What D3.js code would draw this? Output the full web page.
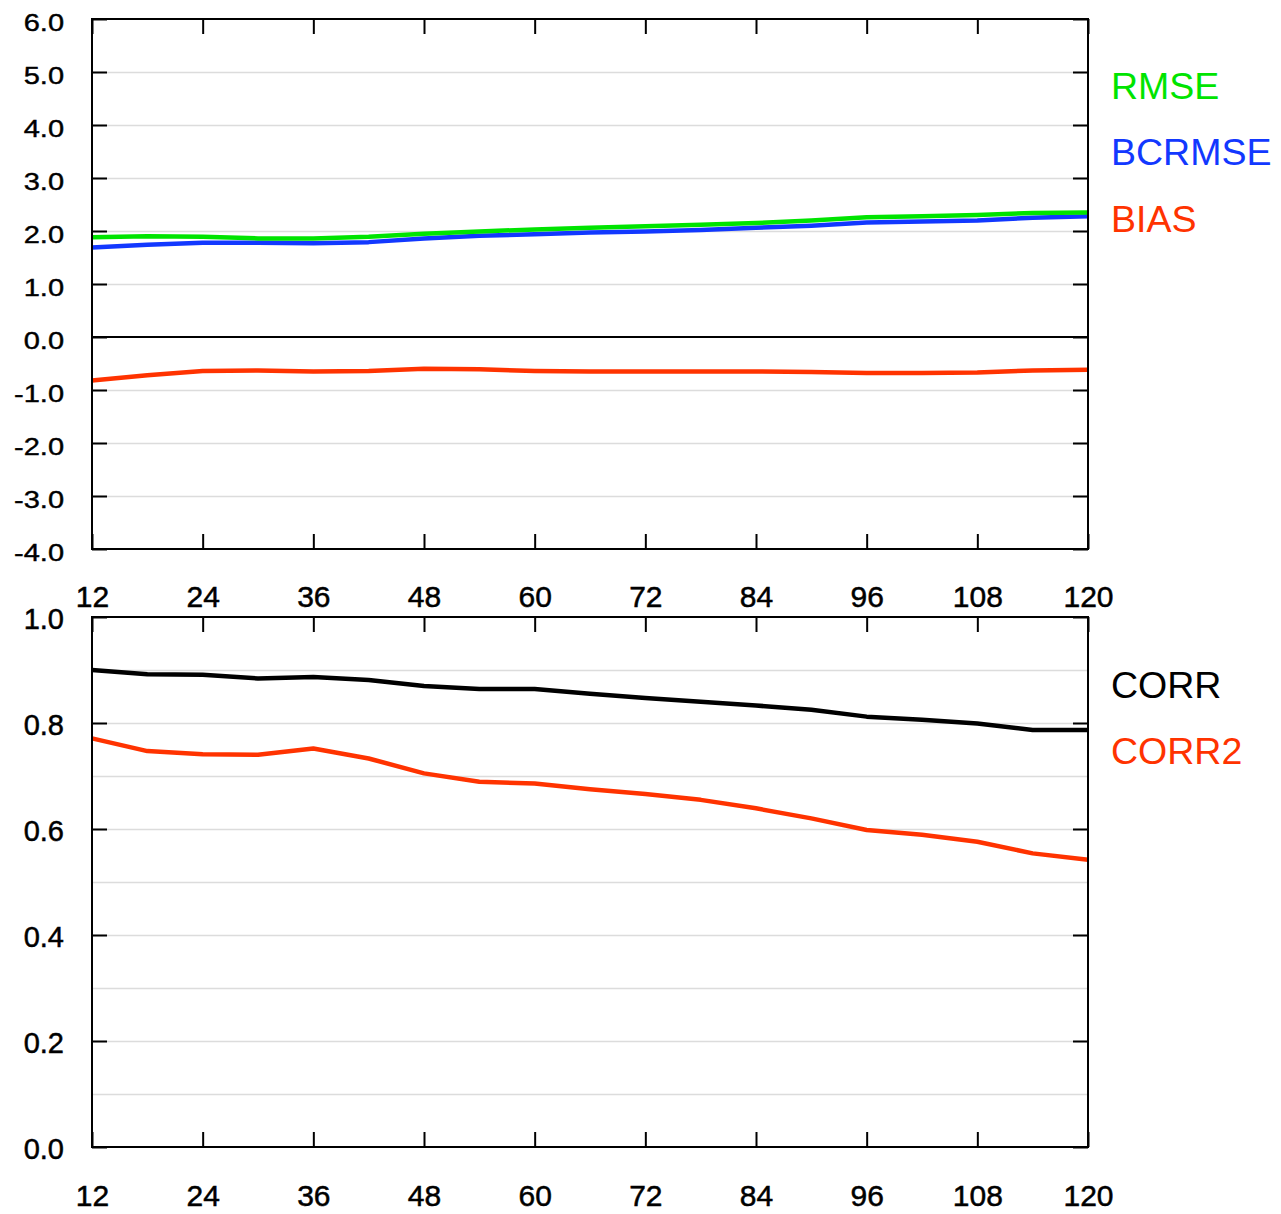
<!DOCTYPE html>
<html>
<head>
<meta charset="utf-8">
<script src="https://cdn.jsdelivr.net/npm/d3@7"></script>
<style>
  body { margin: 0; background: #fff; }
  text { font-family: "Liberation Sans", Arial, sans-serif; fill: #000; }
</style>
</head>
<body>
<div class="canvas"></div>
<script>

// forecast hours (6-hourly)
const hours = [12, 18, 24, 30, 36, 42, 48, 54, 60, 66, 72, 78, 84, 90, 96, 102, 108, 114, 120];
const hourTicks = [12, 24, 36, 48, 60, 72, 84, 96, 108, 120];

// top panel series
const rmse   = [1.88, 1.90, 1.89, 1.86, 1.86, 1.89, 1.95, 1.99, 2.03, 2.06, 2.09, 2.12, 2.15, 2.20, 2.26, 2.28, 2.30, 2.34, 2.35];
const bcrmse = [1.69, 1.74, 1.78, 1.78, 1.77, 1.79, 1.86, 1.91, 1.94, 1.97, 1.99, 2.02, 2.06, 2.10, 2.16, 2.18, 2.20, 2.25, 2.28];
const bias   = [-0.82, -0.72, -0.64, -0.63, -0.65, -0.64, -0.60, -0.61, -0.64, -0.65, -0.65, -0.65, -0.65, -0.66, -0.68, -0.68, -0.67, -0.63, -0.62];

// bottom panel series
const corr  = [0.900, 0.892, 0.891, 0.884, 0.887, 0.881, 0.870, 0.864, 0.864, 0.855, 0.847, 0.840, 0.833, 0.825, 0.812, 0.806, 0.799, 0.787, 0.787];
const corr2 = [0.771, 0.747, 0.741, 0.740, 0.752, 0.733, 0.705, 0.689, 0.686, 0.675, 0.666, 0.655, 0.639, 0.620, 0.598, 0.589, 0.576, 0.554, 0.542];

const topTicks = [6, 5, 4, 3, 2, 1, 0, -1, -2, -3, -4];
const topGrid  = [5, 4, 3, 2, 1, -1, -2, -3];
const botTicks = [1.0, 0.8, 0.6, 0.4, 0.2, 0.0];
const botGrid  = [0.9, 0.8, 0.7, 0.6, 0.5, 0.4, 0.3, 0.2, 0.1];

const GREEN = '#00e400', BLUE = '#1238ff', RED = '#ff3300';

const svg = d3.select('.canvas')
    .append('svg')
        .attr('width', 1281)
        .attr('height', 1214);

const x = d3.scaleLinear().domain([12, 120]).range([92, 1088]);

const yTop = d3.scaleLinear().domain([-4, 6]).range([549, 19]);
const yBot = d3.scaleLinear().domain([0, 1]).range([1147, 617]);

// plain hyphen for negatives, like the original
const fmt = d => d.toFixed(1);

const drawPanel = (y, gridVals, tickVals, labelScaleY, series, legend, xLabelY) => {
    const [y0, y1] = y.range();
    const g = svg.append('g');

    // grid lines
    g.append('g')
        .attr('transform', 'translate(92,0)')
        .call(d3.axisLeft(y).tickValues(gridVals).tickSize(-996).tickFormat(''))
        .call(s => s.select('.domain').remove())
        .selectAll('line').attr('stroke', '#dcdcdc').attr('stroke-width', 1.5);

    // zero line (top panel only)
    if (y.domain()[0] < 0) {
        g.append('line')
            .attr('x1', 92).attr('x2', 1088)
            .attr('y1', y(0)).attr('y2', y(0))
            .attr('stroke', '#000').attr('stroke-width', 2);
    }

    // series
    const line = d3.line()
        .x((d, i) => x(hours[i]))
        .y(d => y(d));

    series.forEach(s => {
        g.append('path')
            .datum(s.values)
            .attr('fill', 'none')
            .attr('stroke', s.color)
            .attr('stroke-width', 4.5)
            .attr('stroke-linejoin', 'round')
            .attr('d', line);
    });

    // left axis with labels
    const left = g.append('g')
        .attr('transform', 'translate(92,0)')
        .call(d3.axisLeft(y).tickValues(tickVals).tickSize(-15).tickPadding(28).tickFormat(fmt));
    left.select('.domain').remove();
    left.selectAll('line').attr('stroke', '#000').attr('stroke-width', 2);
    left.selectAll('text')
        .attr('font-size', 29)
        .attr('dy', null)
        .attr('y', 11 / labelScaleY)
        .attr('transform', `scale(1,${labelScaleY})`)
        .attr('fill', '#000')
        .attr('stroke', '#000')
        .attr('stroke-width', 0.5);

    // right ticks
    const right = g.append('g')
        .attr('transform', 'translate(1088,0)')
        .call(d3.axisRight(y).tickValues(tickVals).tickSize(-15).tickFormat(''));
    right.select('.domain').remove();
    right.selectAll('line').attr('stroke', '#000').attr('stroke-width', 2);

    // top ticks
    const top = g.append('g')
        .attr('transform', `translate(0,${y1})`)
        .call(d3.axisTop(x).tickValues(hourTicks).tickSize(-15).tickFormat(''));
    top.select('.domain').remove();
    top.selectAll('line').attr('stroke', '#000').attr('stroke-width', 2);

    // bottom ticks + labels
    const bottom = g.append('g')
        .attr('transform', `translate(0,${y0})`)
        .call(d3.axisBottom(x).tickValues(hourTicks).tickSize(-15));
    bottom.select('.domain').remove();
    bottom.selectAll('line').attr('stroke', '#000').attr('stroke-width', 2);
    bottom.selectAll('text')
        .attr('font-size', 30)
        .attr('dy', null)
        .attr('y', xLabelY - y0)
        .attr('fill', '#000')
        .attr('stroke', '#000')
        .attr('stroke-width', 0.5);

    // frame
    g.append('rect')
        .attr('x', 92).attr('y', y1)
        .attr('width', 996).attr('height', y0 - y1)
        .attr('fill', 'none')
        .attr('stroke', '#000')
        .attr('stroke-width', 2);

    // legend text
    legend.forEach(l => {
        g.append('text')
            .attr('x', 1111)
            .attr('y', l.y)
            .attr('font-size', 37.5)
            .style('fill', l.color)
            .text(l.name);
    });
};

drawPanel(yTop, topGrid, topTicks, 0.84,
    [
        { values: bias, color: RED },
        { values: bcrmse, color: BLUE },
        { values: rmse, color: GREEN }
    ],
    [
        { name: 'RMSE', color: GREEN, y: 99 },
        { name: 'BCRMSE', color: BLUE, y: 165 },
        { name: 'BIAS', color: RED, y: 232 }
    ],
    607);

drawPanel(yBot, botGrid, botTicks, 1,
    [
        { values: corr2, color: RED },
        { values: corr, color: '#000' }
    ],
    [
        { name: 'CORR', color: '#000', y: 698 },
        { name: 'CORR2', color: RED, y: 764 }
    ],
    1206);

</script>
</body>
</html>
